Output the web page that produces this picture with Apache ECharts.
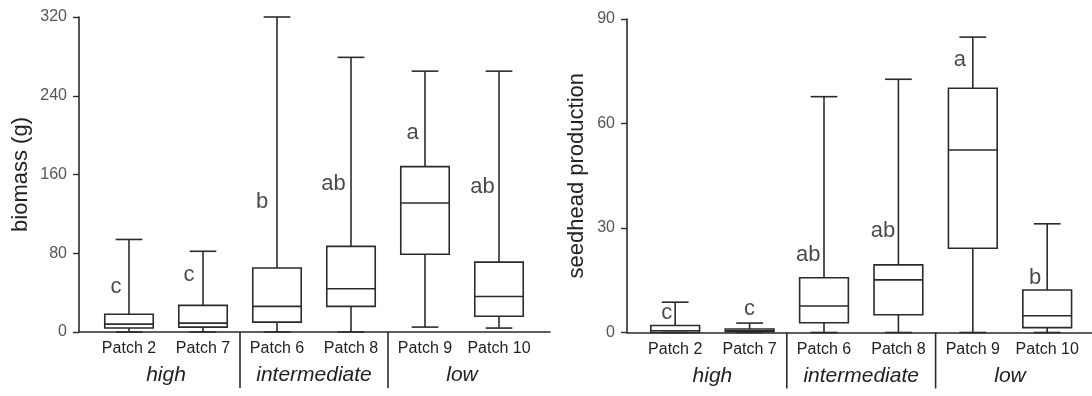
<!DOCTYPE html>
<html><head><meta charset="utf-8">
<script src="https://cdn.jsdelivr.net/npm/echarts@6/dist/echarts.min.js"></script>
<style>html,body{margin:0;padding:0;background:#fff}#c{width:1092px;height:396px}</style>
</head><body><div id="c"></div>
<script>
const categories = ['Patch 2','Patch 7','Patch 6','Patch 8','Patch 9','Patch 10'];
const groups = ['high','intermediate','low'];
// index of first category of each group after the first (group separators)
const groupStarts = [2, 4];
// [min, q1, median, q3, max]
const biomassBox = [[0,4,8,18,94],[0,5,9,27,82],[0,10,26,65,320],[0,26,44,87,279],[5,79,131,168,265],[4,16,36,71,265]];
const seedBox = [[0,0,0.5,2,8.7],[0,0.2,0.5,1,2.7],[0,2.8,7.6,15.7,67.7],[0,5.1,15.1,19.4,72.7],[0,24.2,52.4,70.1,84.8],[0,1.4,4.8,12.2,31.2]];
const biomassLetters = ['c','c','b','ab','a','ab'];
const biomassLetterY = [46,58,132,150,202,147];
const seedLetters = ['c','c','ab','ab','a','b'];
const seedLetterY = [5.7,6.7,22.2,29.2,78.2,15.7];
const biomassTicks = {min:0, max:320, interval:80};
const seedTicks = {min:0, max:90, interval:30};

// label horizontal offsets (layout, px)
const biomassLetterDx = [-13,-14,-15,-17.5,-12.5,-16.5];
const seedLetterDx = [-8.5,0,-15.7,-15.3,-13,-12];

const FONT = '"Liberation Sans", Arial, sans-serif';
const LINE = '#2b2b2b';

function renderBox(params, api){
  const i = api.value(0);
  const lo = api.coord([i, api.value(1)]);
  const q1 = api.coord([i, api.value(2)]);
  const md = api.coord([i, api.value(3)]);
  const q3 = api.coord([i, api.value(4)]);
  const hi = api.coord([i, api.value(5)]);
  const band = api.size([1,0])[0];
  const bw = band*0.655, cw = band*0.36;
  const x = lo[0];
  const st = {stroke:LINE, lineWidth:1.6, fill:null};
  const ln = (x1,y1,x2,y2)=>({type:'line', shape:{x1,y1,x2,y2}, style:st});
  return {type:'group', children:[
    {type:'rect', shape:{x:x-bw/2, y:q3[1], width:bw, height:q1[1]-q3[1]}, style:{stroke:LINE, lineWidth:1.6, fill:'rgba(0,0,0,0)'}},
    ln(x-bw/2, md[1], x+bw/2, md[1]),
    ln(x, q3[1], x, hi[1]),
    ln(x-cw/2, hi[1], x+cw/2, hi[1]),
    ln(x, q1[1], x, lo[1]),
    ln(x-cw/2, lo[1], x+cw/2, lo[1])
  ]};
}
function renderSep(params, api){
  const p = api.coord([api.value(0), api.value(1)]);
  const band = api.size([1,0])[0];
  const x = p[0] - band/2;
  return {type:'line', shape:{x1:x, y1:p[1], x2:x, y2:p[1]+56}, style:{stroke:LINE, lineWidth:1.6}};
}

const chart = echarts.init(document.getElementById('c'), null, {renderer:'canvas'});

function frameAxes(grid, ticks, name, nameGap){
  return {
    x: {gridIndex:grid, type:'value', min:0, max:1, axisLine:{show:true, lineStyle:{color:LINE, width:1.6}},
        axisTick:{show:false}, axisLabel:{show:false}, splitLine:{show:false}},
    y: {gridIndex:grid, type:'value', min:ticks.min, max:ticks.max, interval:ticks.interval,
        name:name, nameLocation:'middle', nameGap:nameGap,
        nameTextStyle:{fontFamily:FONT, fontSize:22, color:'#222'},
        axisLine:{show:true, lineStyle:{color:LINE, width:1.6}},
        axisTick:{show:true, length:6, lineStyle:{color:LINE, width:1.4}},
        axisLabel:{fontFamily:FONT, fontSize:16, color:'#555', margin:12},
        splitLine:{show:false}}
  };
}
function dataAxes(grid, ticks){
  return {
    cat: {gridIndex:grid, type:'category', data:categories, boundaryGap:true,
          axisLine:{show:false}, axisTick:{show:false},
          axisLabel:{fontFamily:FONT, fontSize:16, color:'#222', margin:9, interval:0},
          splitLine:{show:false}},
    grp: {gridIndex:grid, type:'category', data:groups, position:'bottom',
          axisLine:{show:false}, axisTick:{show:false},
          axisLabel:{fontFamily:FONT, fontSize:21, fontStyle:'italic', color:'#222', margin:33, interval:0},
          splitLine:{show:false}},
    y: {gridIndex:grid, type:'value', min:ticks.min, max:ticks.max, show:false, splitLine:{show:false}}
  };
}

const f0 = frameAxes(0, biomassTicks, 'biomass (g)', 47);
const d1 = dataAxes(1, biomassTicks);
const f2 = frameAxes(2, seedTicks, 'seedhead production', 39);
const d3 = dataAxes(3, seedTicks);

function letterSeries(xi, yi, letters, ys, dx){
  return {type:'scatter', xAxisIndex:xi, yAxisIndex:yi, symbolSize:0, silent:true,
    data: ys.map((v,i)=>({value:[i,v], label:{offset:[dx[i],0]}})),
    label:{show:true, position:'inside', fontFamily:FONT, fontSize:22, color:'#1a1a1a',
      formatter:(p)=>letters[p.dataIndex]}};
}
function sepSeries(xi, yi){
  return {type:'custom', xAxisIndex:xi, yAxisIndex:yi, renderItem:renderSep, clip:false, silent:true,
    encode:{x:0, y:1}, data: groupStarts.map(b=>[b, 0])};
}

chart.setOption({
  animation:false,
  grid:[
    {left:79, top:17, width:471, height:315},
    {left:92, top:17, width:444, height:315},
    {left:627, top:19, width:465, height:313.5},
    {left:638, top:19, width:446.4, height:313.5}
  ],
  xAxis:[f0.x, d1.cat, d1.grp, f2.x, d3.cat, d3.grp],
  yAxis:[f0.y, d1.y, f2.y, d3.y],
  series:[
    {type:'custom', xAxisIndex:1, yAxisIndex:1, renderItem:renderBox, encode:{x:0, y:[1,2,3,4,5]},
     data: biomassBox.map((d,i)=>[i].concat(d))},
    {type:'custom', xAxisIndex:4, yAxisIndex:3, renderItem:renderBox, encode:{x:0, y:[1,2,3,4,5]},
     data: seedBox.map((d,i)=>[i].concat(d))},
    sepSeries(1,1),
    sepSeries(4,3),
    letterSeries(1,1,biomassLetters,biomassLetterY,biomassLetterDx),
    letterSeries(4,3,seedLetters,seedLetterY,seedLetterDx)
  ]
});
</script></body></html>
